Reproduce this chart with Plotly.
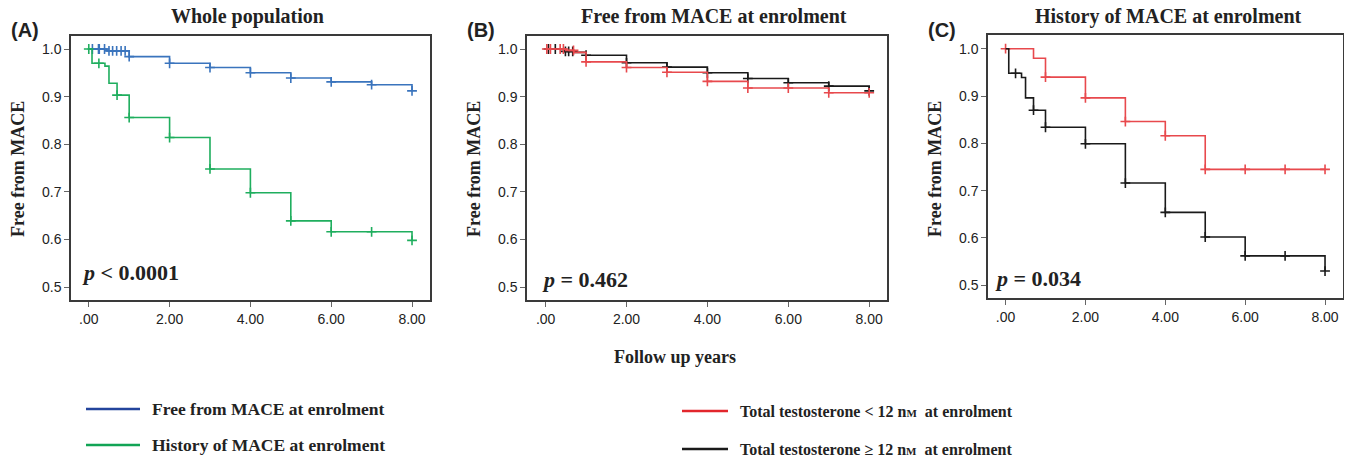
import numpy as np
import plotly.graph_objects as go

# ---------------- data ----------------
# Panel A: whole population
a_free_t = [0, 0.45, 1, 2, 3, 4, 5, 6, 7, 8]
a_free_s = [1.0, 0.996, 0.984, 0.970, 0.961, 0.950, 0.939, 0.931, 0.925, 0.912]
a_free_c = [0.09, 0.24, 0.26, 0.39, 0.5, 0.59, 0.69, 0.8, 0.9, 1, 2, 3, 4, 5, 6, 7, 8]

a_hist_t = [0, 0.08, 0.4, 0.5, 0.7, 1, 2, 3, 4, 5, 6, 8]
a_hist_s = [1.0, 0.970, 0.964, 0.928, 0.903, 0.856, 0.814, 0.748, 0.698, 0.639, 0.616, 0.598]
a_hist_c = [0, 0.25, 0.7, 1, 2, 3, 4, 5, 6, 7, 8]

# Panel B: free from MACE at enrolment
b_low_t = [0, 0.5, 0.7, 1, 2, 3, 4, 5, 7]
b_low_s = [1.0, 0.997, 0.993, 0.973, 0.961, 0.951, 0.932, 0.918, 0.908]
b_low_c = [0.03, 0.12, 0.36, 0.44, 0.69, 1, 2, 3, 4, 5, 6, 7, 8]

b_high_t = [0, 0.45, 0.7, 1, 2, 3, 4, 5, 6, 7, 8]
b_high_s = [1.0, 0.995, 0.993, 0.987, 0.971, 0.962, 0.950, 0.938, 0.929, 0.922, 0.912]
b_high_c = [0.07, 0.24, 0.49, 0.57, 0.67, 1, 2, 3, 4, 5, 6, 7, 8]

# Panel C: history of MACE at enrolment
c_low_t = [0, 0.7, 1, 2, 3, 4, 5]
c_low_s = [1.0, 0.980, 0.940, 0.896, 0.846, 0.816, 0.745]
c_low_c = [0, 1, 2, 3, 4, 5, 6, 7, 8]

c_high_t = [0, 0.08, 0.4, 0.5, 0.7, 1, 2, 3, 4, 5, 6, 8]
c_high_s = [1.0, 0.948, 0.939, 0.896, 0.870, 0.834, 0.799, 0.716, 0.654, 0.602, 0.562, 0.530]
c_high_c = [0.25, 0.7, 1, 2, 3, 4, 5, 6, 7, 8]

x_tickvals = [0, 2, 4, 6, 8]
x_ticktext = [".00", "2.00", "4.00", "6.00", "8.00"]
y_tickvals = [0.5, 0.6, 0.7, 0.8, 0.9, 1.0]

panel_titles = ["Whole population", "Free from MACE at enrolment", "History of MACE at enrolment"]
panel_labels = ["(A)", "(B)", "(C)"]
p_values = ["<i>p</i> &lt; 0.0001", "<i>p</i> = 0.462", "<i>p</i> = 0.034"]

BLUE = "#3a74bd"
GREEN = "#1fae5e"
RED = "#e8494d"
BLACK = "#1a1a1a"
SERIF = "Liberation Serif, Times New Roman, serif"
SANS = "Liberation Sans, Arial, sans-serif"

# page body has an 8px margin: figure is drawn 8px in from the top-left corner
OFF = 8
W, H = 1352 - OFF, 456 - OFF


def fx(x):
    return (x - OFF) / W


def fy(y):
    return 1 - (y - OFF) / H


def surv_at(times, surv, t):
    idx = np.searchsorted(np.array(times), np.array(t), side="right") - 1
    return np.array(surv)[idx]


def km_traces(times, surv, cens, color, xa, ya, end=8):
    t = list(times)
    s = list(surv)
    if t[-1] < end:
        t.append(end)
        s.append(s[-1])
    line = go.Scatter(x=t, y=s, mode="lines", line=dict(color=color, width=1.6, shape="hv"),
                      xaxis=xa, yaxis=ya, showlegend=False, hoverinfo="skip")
    marks = go.Scatter(x=cens, y=surv_at(times, surv, cens), mode="markers",
                       marker=dict(symbol="cross-thin", size=7, color=color,
                                   line=dict(color=color, width=1.6)),
                       xaxis=xa, yaxis=ya, showlegend=False, hoverinfo="skip")
    return [line, marks]


fig = go.Figure()
for tr in km_traces(a_free_t, a_free_s, a_free_c, BLUE, "x", "y"):
    fig.add_trace(tr)
for tr in km_traces(a_hist_t, a_hist_s, a_hist_c, GREEN, "x", "y"):
    fig.add_trace(tr)
for tr in km_traces(b_high_t, b_high_s, b_high_c, BLACK, "x2", "y2"):
    fig.add_trace(tr)
for tr in km_traces(b_low_t, b_low_s, b_low_c, RED, "x2", "y2"):
    fig.add_trace(tr)
for tr in km_traces(c_low_t, c_low_s, c_low_c, RED, "x3", "y3"):
    fig.add_trace(tr)
for tr in km_traces(c_high_t, c_high_s, c_high_c, BLACK, "x3", "y3"):
    fig.add_trace(tr)

# panel boxes in reference pixels (left, right, top, bottom)
boxes = [(71, 430, 36, 300), (527, 887, 36, 300), (988, 1343, 35, 298)]
xranges = [[-0.44, 8.445], [-0.46, 8.44], [-0.44, 8.45]]
yranges = [[0.4727, 1.0273], [0.4727, 1.0273], [0.473, 1.029]]

axis_common = dict(showline=True, linecolor="#3a3a3a", linewidth=1.5, mirror=True,
                   ticks="outside", ticklen=5, tickwidth=1, tickcolor="#666",
                   showgrid=False, zeroline=False,
                   tickfont=dict(family=SANS, size=14, color="#222"))
layout = {}
for i, (l, r, t, b) in enumerate(boxes):
    sfx = "" if i == 0 else str(i + 1)
    layout["xaxis" + sfx] = dict(domain=[fx(l), fx(r)], range=xranges[i], anchor="y" + sfx,
                                 tickvals=x_tickvals, ticktext=x_ticktext, **axis_common)
    layout["yaxis" + sfx] = dict(domain=[fy(b), fy(t)], range=yranges[i], anchor="x" + sfx,
                                 tickvals=y_tickvals, tickformat=".1f", **axis_common)

annotations = []
title_cx = [247, 714, 1168]
for i, (l, r, t, b) in enumerate(boxes):
    annotations.append(dict(text="<b>" + panel_titles[i] + "</b>", x=fx(title_cx[i]), y=fy(16),
                            xref="paper", yref="paper", showarrow=False, xanchor="center", yanchor="middle",
                            font=dict(family=SERIF, size=20, color="#222")))
    annotations.append(dict(text="<b>" + panel_labels[i] + "</b>", x=fx(l - 62), y=fy(30),
                            xref="paper", yref="paper", showarrow=False, xanchor="left", yanchor="middle",
                            font=dict(family=SANS, size=20, color="#222")))
    annotations.append(dict(text="<b>Free from MACE</b>", x=fx(l - 53), y=fy(169),
                            xref="paper", yref="paper", showarrow=False, textangle=-90,
                            xanchor="center", yanchor="middle",
                            font=dict(family=SERIF, size=18, color="#222")))

p_pos = [(-0.215, 0.530), (-0.13, 0.515), (-0.31, 0.515)]
for i, (px_, py_) in enumerate(p_pos):
    sfx = "" if i == 0 else str(i + 1)
    annotations.append(dict(text="<b>" + p_values[i] + "</b>", x=px_, y=py_,
                            xref="x" + sfx, yref="y" + sfx, showarrow=False,
                            xanchor="left", yanchor="middle",
                            font=dict(family=SERIF, size=22, color="#222")))

annotations.append(dict(text="<b>Follow up years</b>", x=fx(675), y=fy(357), xref="paper", yref="paper",
                        showarrow=False, xanchor="center", yanchor="middle",
                        font=dict(family=SERIF, size=18, color="#222")))

legend_items = [
    ("Free from MACE at enrolment", "#23449c", 86, 140, 150, 409, 17.5),
    ("History of MACE at enrolment", "#11a455", 86, 140, 150, 445, 17.5),
    ("Total testosterone &lt; 12 n<span style='font-size:11px'>M</span>  at enrolment", "#e2262c", 682, 728, 738, 411, 16),
    ("Total testosterone ≥ 12 n<span style='font-size:11px'>M</span>  at enrolment", "#1a1a1a", 682, 728, 738, 449, 16),
]
shapes = []
for txt, col, x0, x1, tx, yy, fs in legend_items:
    shapes.append(dict(type="line", xref="paper", yref="paper", x0=fx(x0), x1=fx(x1),
                       y0=fy(yy), y1=fy(yy), line=dict(color=col, width=2.5)))
    annotations.append(dict(text="<b>" + txt + "</b>", x=fx(tx), y=fy(yy), xref="paper", yref="paper",
                            showarrow=False, xanchor="left", yanchor="middle",
                            font=dict(family=SERIF, size=fs, color="#222")))

fig.update_layout(width=W, height=H, margin=dict(l=0, r=0, t=0, b=0),
                  paper_bgcolor="white", plot_bgcolor="white", showlegend=False,
                  annotations=annotations, shapes=shapes, **layout)

fig.write_html("out.html")
